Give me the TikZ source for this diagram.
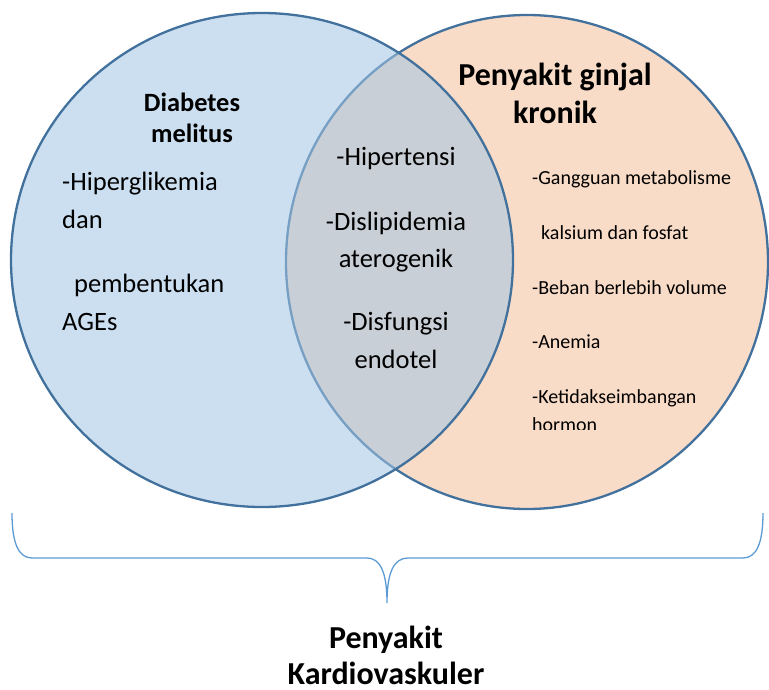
\documentclass[tikz,border=0pt]{standalone}
\usepackage{fontspec}
\setmainfont{Carlito}
\begin{document}
\begin{tikzpicture}[x=1pt,y=-1pt,
  ring/.style={draw=ringblue, line width=2.3pt},
  brace/.style={draw=braceblue, line width=1.3pt},
  mid/.style={anchor=base, inner sep=0pt, font=\fontsize{26.5}{30}\selectfont},
  lefttxt/.style={anchor=base west, inner sep=0pt, font=\fontsize{26.5}{30}\selectfont},
  righttxt/.style={anchor=base west, inner sep=0pt, font=\fontsize{20}{24}\selectfont},
  title/.style={anchor=base, inner sep=0pt, font=\bfseries\fontsize{#1}{#1}\selectfont}
]
\definecolor{ringblue}{RGB}{65,113,156}
\definecolor{braceblue}{RGB}{91,155,213}
\definecolor{peach}{RGB}{249,220,199}
\definecolor{dmblue}{RGB}{162,197,228}
\useasboundingbox (0,0) rectangle (769,689);

% Penyakit ginjal kronik (drawn first, lies underneath)
\fill[peach] (527,262) ellipse [x radius=241, y radius=247];
\draw[ring] (527,262) ellipse [x radius=241, y radius=247];
% Diabetes melitus (translucent fill on top)
\fill[dmblue, fill opacity=0.55] (262,260) ellipse [x radius=251, y radius=247];
\draw[ring] (262,260) ellipse [x radius=251, y radius=247];

% left set
\node[title=26.4] (dm1) at (192,111) {Diabetes};
\node[title=26.4] (dm2) at (192,142) {melitus};
\node[lefttxt] (l1) at (62,190) {-Hiperglikemia};
\node[lefttxt] (l2) at (62,228) {dan};
\node[lefttxt] (l3) at (74,292) {pembentukan};
\node[lefttxt] (l4) at (62,330) {AGEs};

% intersection
\node[mid] (m1) at (396,165) {-Hipertensi};
\node[mid] (m2) at (396,230) {-Dislipidemia};
\node[mid] (m3) at (396,267) {aterogenik};
\node[mid] (m4) at (396,330) {-Disfungsi};
\node[mid] (m5) at (396,368) {endotel};

% right set
\node[title=32] (gk1) at (555,85) {Penyakit ginjal};
\node[title=32] (gk2) at (555,123) {kronik};
\node[righttxt] (r1) at (532,184) {-Gangguan metabolisme};
\node[righttxt] (r2) at (541,239) {kalsium dan fosfat};
\node[righttxt] (r3) at (532,294) {-Beban berlebih volume};
\node[righttxt] (r4) at (532,348) {-Anemia};
\node[righttxt] (r5) at (532,403) {-Ketidakseimbangan};
\begin{scope}
  \clip (520,380) rectangle (769,429);
  \node[righttxt] (r6) at (532,431) {hormon};
\end{scope}

% brace
\coordinate (bl) at (12,513);
\coordinate (br) at (763,513);
\coordinate (tip) at (387,603);
\draw[brace] (bl) .. controls (12,542) and (18,558) .. (32,558)
  -- (367,558) .. controls (380,558) and (387,572) .. (tip)
  .. controls (387,572) and (394,558) .. (408,558)
  -- (743,558) .. controls (757,558) and (763,542) .. (br);

% result
\node[title=32] (pk1) at (386,648) {Penyakit};
\node[title=32] (pk2) at (386,684) {Kardiovaskuler};
\end{tikzpicture}
\end{document}
